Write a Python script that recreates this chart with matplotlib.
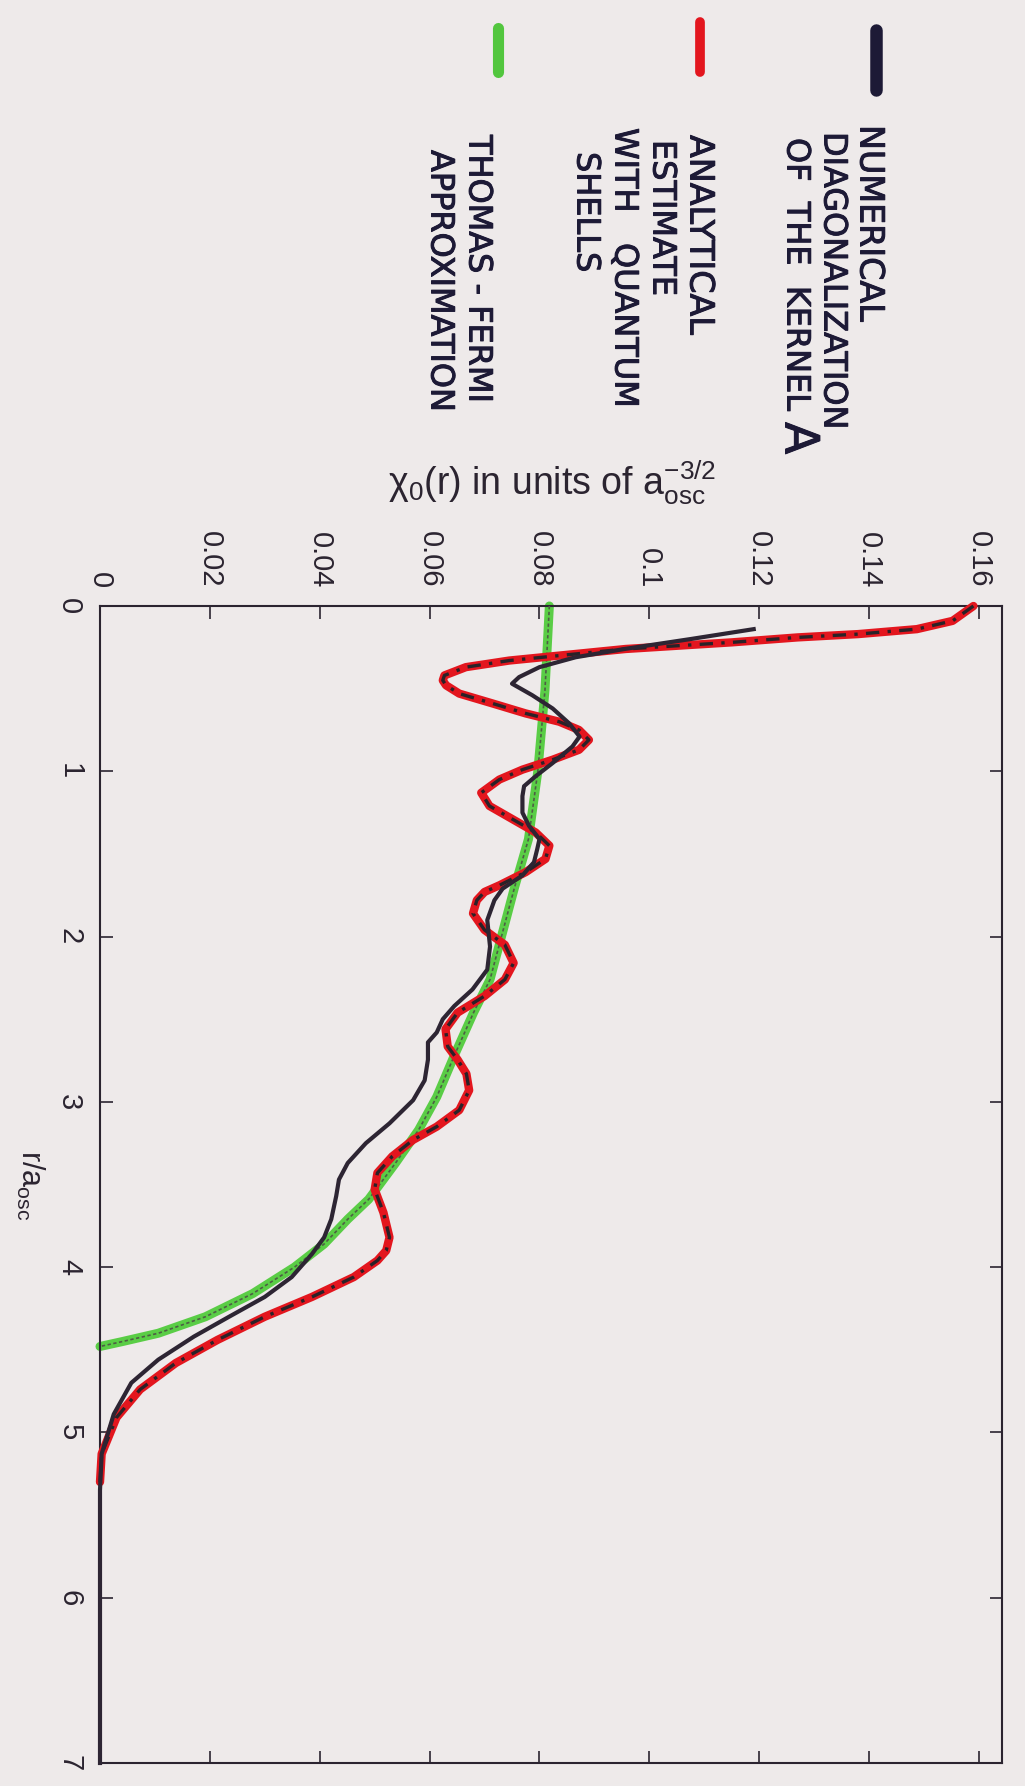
import matplotlib
matplotlib.use("Agg")
import matplotlib.pyplot as plt
import matplotlib.font_manager as fm
import matplotlib.patheffects as pe
from matplotlib.lines import Line2D

# ---------------- data ----------------
# analytical estimate with quantum shells (red, with black dashes)
r_analytic = [0.0, 0.09, 0.14, 0.17, 0.19, 0.22, 0.26, 0.30, 0.33, 0.37, 0.42, 0.45,
              0.48, 0.53, 0.59, 0.65, 0.70, 0.75, 0.81, 0.87, 0.93, 0.99, 1.05, 1.13,
              1.21, 1.29, 1.37, 1.45, 1.53, 1.61, 1.69, 1.73, 1.78, 1.86, 1.96, 2.05,
              2.16, 2.26, 2.36, 2.46, 2.56, 2.665, 2.745, 2.83, 2.93, 3.05, 3.15, 3.23,
              3.33, 3.43, 3.53, 3.67, 3.82, 3.90, 3.96, 4.06, 4.18, 4.30, 4.44, 4.58,
              4.74, 4.91, 5.13, 5.30]
chi_analytic = [0.159, 0.1552, 0.1487, 0.138, 0.127, 0.115, 0.0957, 0.0836, 0.0745,
                0.0666, 0.0627, 0.0624, 0.0630, 0.0654, 0.0715, 0.0775, 0.0836, 0.0872,
                0.0890, 0.0872, 0.0824, 0.0769, 0.0727, 0.0694, 0.0709, 0.0751, 0.0793,
                0.0818, 0.0811, 0.0775, 0.0727, 0.0700, 0.0686, 0.0679, 0.0700, 0.0737,
                0.0753, 0.0737, 0.0700, 0.0651, 0.0629, 0.0633, 0.0651, 0.0667, 0.0672,
                0.0654, 0.0613, 0.0570, 0.0532, 0.0505, 0.0500, 0.0516, 0.0527, 0.0521,
                0.0505, 0.0462, 0.0386, 0.0300, 0.0214, 0.0138, 0.0073, 0.0030, 0.0003,
                0.0]

# numerical diagonalization of the kernel (black solid)
r_numeric = [0.14, 0.20, 0.26, 0.31, 0.37, 0.43, 0.47, 0.54, 0.62, 0.71, 0.79, 0.85,
             0.95, 1.03, 1.09, 1.15, 1.25, 1.33, 1.41, 1.47, 1.55, 1.63, 1.71, 1.78,
             1.90, 2.06, 2.20, 2.32, 2.42, 2.50, 2.58, 2.64, 2.745, 2.87, 2.99, 3.13,
             3.25, 3.37, 3.47, 3.57, 3.71, 3.82, 3.92, 4.06, 4.18, 4.30, 4.42, 4.56,
             4.70, 4.89, 5.13, 5.35, 7.0]
chi_numeric = [0.119, 0.1075, 0.0955, 0.0866, 0.0800, 0.0763, 0.0750, 0.0787, 0.0824,
               0.0854, 0.0873, 0.0860, 0.0824, 0.0793, 0.0772, 0.0769, 0.0769, 0.0781,
               0.0800, 0.0796, 0.0790, 0.0769, 0.0733, 0.0718, 0.0705, 0.0710, 0.0705,
               0.0678, 0.0645, 0.0624, 0.0613, 0.0597, 0.0597, 0.0591, 0.0570, 0.0527,
               0.0484, 0.0451, 0.0435, 0.0430, 0.0421, 0.0408, 0.0386, 0.0349, 0.0300,
               0.0235, 0.0171, 0.0106, 0.0057, 0.0025, 0.0003, 0.0, 0.0]

# Thomas-Fermi approximation (green)
r_tf = [0.0, 0.51, 1.0, 1.41, 1.71, 1.96, 2.26, 2.46, 2.72, 2.97, 3.17, 3.37, 3.59,
        3.71, 3.86, 4.0, 4.16, 4.30, 4.40, 4.45, 4.48]
chi_tf = [0.0818, 0.0810, 0.0797, 0.0780, 0.0754, 0.0734, 0.0710, 0.0680, 0.0645,
          0.0613, 0.0580, 0.0538, 0.0489, 0.0451, 0.0408, 0.0354, 0.0278, 0.0192,
          0.0106, 0.0041, 0.0]

chi_ticks = [0, 0.02, 0.04, 0.06, 0.08, 0.1, 0.12, 0.14, 0.16]
chi_ticklabels = ["0", "0.02", "0.04", "0.06", "0.08", "0.1", "0.12", "0.14", "0.16"]
r_ticks = [0, 1, 2, 3, 4, 5, 6, 7]
r_ticklabels = ["0", "1", "2", "3", "4", "5", "6", "7"]

legend_entries = [
    (["NUMERICAL", "DIAGONALIZATION", "OF  THE  KERNEL"], "#1d1a36"),
    (["ANALYTICAL", "ESTIMATE", "WITH   QUANTUM", "SHELLS"], "#e3161e"),
    (["THOMAS - FERMI", "APPROXIMATION"], "#52c63e"),
]

# ---------------- style ----------------
names = {f.name for f in fm.fontManager.ttflist}
font = "Liberation Sans" if "Liberation Sans" in names else "DejaVu Sans"
plt.rcParams["font.family"] = [font, "DejaVu Sans"]
plt.rcParams["mathtext.fontset"] = "custom"
plt.rcParams["mathtext.rm"] = font
plt.rcParams["mathtext.it"] = font + ":italic"
plt.rcParams["mathtext.sf"] = font

paper = "#eeeaea"
ink = "#2b2430"
pen = "#1d1a36"

W, H = 1025, 1786
fig = plt.figure(figsize=(W / 100, H / 100), dpi=100, facecolor=paper)
ax = fig.add_axes([100 / W, 23 / H, 902 / W, (1763 - 606) / H])
ax.set_facecolor(paper)

# green Thomas-Fermi: highlighter + thin dotted ink
ax.plot(chi_tf, r_tf, color="#5acd46", lw=6.5, solid_capstyle="round", clip_on=False, zorder=2)
ax.plot(chi_tf, r_tf, color="#4d5e44", lw=1.2, ls=(0, (2, 1.5)), clip_on=False, zorder=3)
# red analytic: highlighter + black dash-dot
ax.plot(chi_analytic, r_analytic, color="#e3161e", lw=6, solid_capstyle="round",
        clip_on=False, zorder=4)
ax.plot(chi_analytic, r_analytic, color="#2a2228", lw=2.4, ls=(0, (4, 2.5, 1, 2.5)),
        clip_on=False, zorder=5)
# black numerical
ax.plot(chi_numeric, r_numeric, color="#2d2533", lw=3, clip_on=False, zorder=6)

ax.set_xlim(0, 0.1642)
ax.set_ylim(7, 0)

ax.set_xticks(chi_ticks, labels=chi_ticklabels, rotation=-90)
ax.set_yticks(r_ticks, labels=r_ticklabels, rotation=-90, va="center")
ax.xaxis.tick_top()
ax.tick_params(axis="x", which="both", top=True, bottom=True, labeltop=True,
               labelbottom=False, direction="in", length=9, width=1.2, pad=13,
               labelsize=21, colors=ink)
ax.tick_params(axis="y", which="both", left=True, right=True, labelleft=True,
               direction="in", length=9, width=1.2, pad=12, labelsize=21, colors=ink)
for s in ax.spines.values():
    s.set_color(ink)
    s.set_linewidth(1.5)

# axis labels (the page is rotated)
fig.text(552 / W, 1 - 483 / H, r"χ$_0$(r) in units of a$_{\rm osc}^{-3/2}$",
         ha="center", va="center", fontsize=27, color=ink)
fig.text(30 / W, 1 - 1185 / H, r"r/a$_{\rm osc}$", rotation=-90,
         ha="center", va="center", fontsize=22, color=ink)

# ---------------- hand-written legend ----------------
marker_x = [876, 700, 498]
marker_y = [(30, 90), (22, 72), (28, 72)]
marker_lw = [9, 7, 8]
text_cols = [[870, 833, 796], [700, 662, 624, 586], [478, 440]]
text_y0 = [[125, 132, 138], [135, 140, 128, 152], [135, 150]]
sizes = [[24, 23, 23], [24, 23, 23, 23], [23, 23]]
stroke = [pe.withStroke(linewidth=0.7, foreground=pen)]
for (lines, col), mx, (my0, my1), mlw, xs, ys, fs in zip(
        legend_entries, marker_x, marker_y, marker_lw, text_cols, text_y0, sizes):
    fig.add_artist(Line2D([mx / W, mx / W], [1 - my0 / H, 1 - my1 / H],
                          transform=fig.transFigure, color=col, lw=mlw,
                          solid_capstyle="round"))
    for s, x, y, f in zip(lines, xs, ys, fs):
        fig.text(x / W, 1 - y / H, s, rotation=-90, rotation_mode="anchor",
                 ha="left", va="center", fontsize=f, color=pen,
                 family="DejaVu Sans", path_effects=stroke)
fig.text(798 / W, 1 - 422 / H, "A", rotation=-90, rotation_mode="anchor",
         ha="left", va="center", fontsize=34, color=pen, family="DejaVu Sans",
         path_effects=stroke)

fig.savefig("out.png", dpi=100, facecolor=paper)
